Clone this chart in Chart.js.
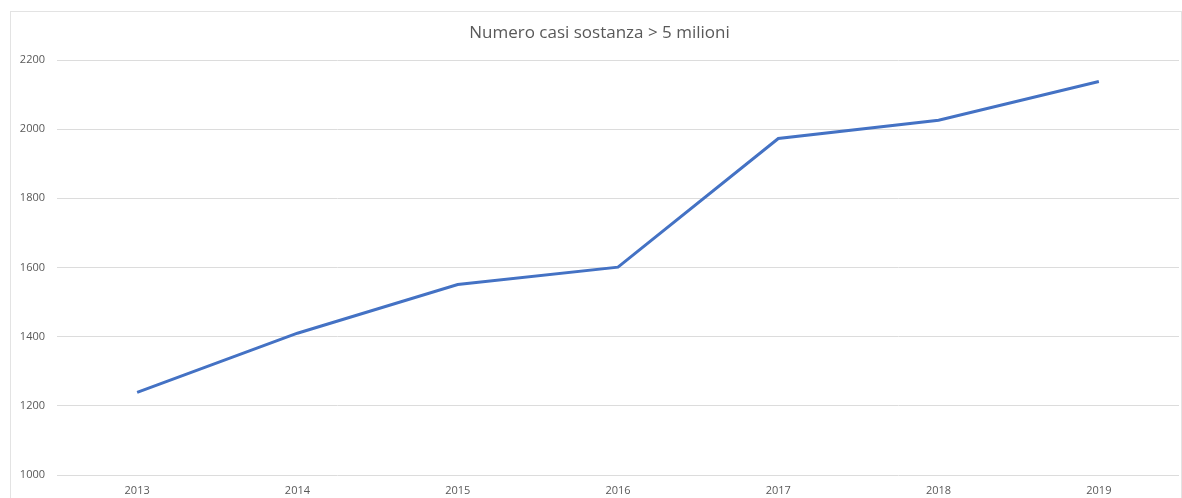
<!DOCTYPE html>
<html>
<head>
<meta charset="utf-8">
<script src="https://cdn.jsdelivr.net/npm/chart.js@4/dist/chart.umd.min.js"></script>
<style>
  html, body { margin: 0; padding: 0; background: #fff; overflow: hidden; }
  #frame {
    position: absolute; left: 10px; top: 11px; width: 1170px; height: 520px;
    border: 1px solid #e3e3e3; pointer-events: none;
  }
  canvas { position: absolute; left: 0; top: 0; }
</style>
</head>
<body>
<canvas id="casiChart" width="1182" height="498"></canvas>
<div id="frame"></div>
<script>
// ===== DATA =====
const years = ["2013", "2014", "2015", "2016", "2017", "2018", "2019"];
const casi = [1239, 1410, 1551, 1601, 1973, 2026, 2138];
const yTicks = [1000, 1200, 1400, 1600, 1800, 2000, 2200];

const grey = "#595959";

// ===== CHART =====
const casiChart = new Chart(
  document.getElementById("casiChart"),
  {
    type: "line",
    data: {
      labels: years,
      datasets: [{
        label: "Numero casi",
        data: casi,
        borderColor: "#4472C4",
        borderWidth: 3,
        pointRadius: 0,
        tension: 0,
        fill: false
      }]
    },
    options: {
      responsive: false,
      animation: false,
      // left padding nudges the title to the right, axis width compensates
      layout: { padding: { left: 20, right: 3, top: 0, bottom: 0 } },
      plugins: {
        legend: { display: false },
        tooltip: { enabled: false },
        title: {
          display: true,
          text: "Numero casi sostanza > 5 milioni",
          color: grey,
          font: { family: "'Open Sans', sans-serif", size: 17, weight: "normal", lineHeight: 1.2 },
          padding: { top: 23, bottom: 16.6 }
        }
      },
      scales: {
        x: {
          offset: true,
          grid: { display: false, drawTicks: false },
          border: { display: false },
          ticks: {
            color: grey,
            padding: 9,
            font: { family: "'Open Sans', sans-serif", size: 11 }
          },
          afterFit: (s) => { s.height = 23; }
        },
        y: {
          min: 1000,
          max: 2200,
          afterBuildTicks: (s) => { s.ticks = yTicks.map(v => ({ value: v })); },
          grid: { color: "#dcdcdc", lineWidth: 1, drawTicks: false },
          border: { display: false },
          ticks: {
            color: grey,
            padding: 12,
            font: { family: "'Open Sans', sans-serif", size: 11 },
            callback: (v) => String(v)
          },
          afterFit: (s) => { s.width = 37; }
        }
      }
    }
  }
);
</script>
</body>
</html>
